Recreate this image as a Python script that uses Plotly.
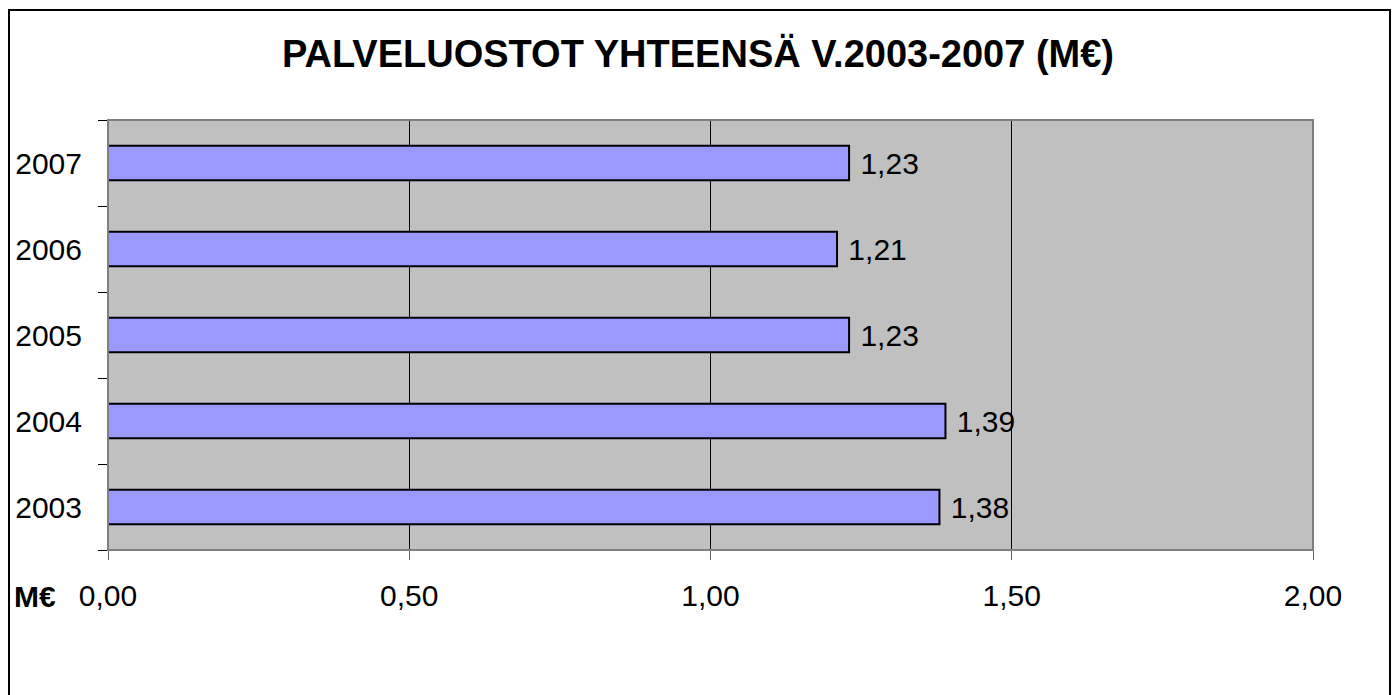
import plotly.graph_objects as go

FONT = "Liberation Sans, Arial, sans-serif"

years = ["2003", "2004", "2005", "2006", "2007"]
values = [1.38, 1.39, 1.23, 1.21, 1.23]
x_ticks = [0, 0.5, 1.0, 1.5, 2.0]

fig = go.Figure(go.Bar(
    x=values, y=years, orientation="h",
    width=0.4,
    marker=dict(color="#9999FF", line=dict(color="black", width=2)),
    texttemplate=" %{x:.2f}", textposition="outside",
    textfont=dict(size=30, color="black", family=FONT),
    cliponaxis=False,
))

fig.update_layout(
    width=1396, height=695,
    separators=", ",
    paper_bgcolor="white", plot_bgcolor="#C0C0C0",
    margin=dict(l=108, r=83, t=120, b=145),
    font=dict(family=FONT, color="black"),
    title=dict(text="<b>PALVELUOSTOT YHTEENSÄ V.2003-2007 (M€)</b>",
               font=dict(size=38, family=FONT, color="black"),
               x=0.5, xanchor="center", y=1 - 54 / 695, yanchor="middle"),
    showlegend=False,
)
fig.update_xaxes(range=[0, 2], tickvals=x_ticks, tickformat=".2f",
                 showgrid=True, gridcolor="black", gridwidth=1,
                 ticks="outside", ticklen=9, tickcolor="#606060",
                 tickfont=dict(size=30, family=FONT), ticklabelstandoff=10,
                 zeroline=False, showline=False)
fig.update_yaxes(type="category", categoryorder="array", categoryarray=years,
                 ticks="outside", ticklen=9, tickcolor="black", tickson="boundaries",
                 tickfont=dict(size=30, family=FONT), ticklabelstandoff=25,
                 showgrid=False, zeroline=False, showline=False)

# plot area frame
fig.add_shape(type="rect", xref="x domain", yref="y domain", x0=0, x1=1, y0=0, y1=1,
              line=dict(color="#808080", width=2), layer="above")
# outer chart border
fig.add_shape(type="rect", xref="paper", yref="paper",
              x0=(9 - 108) / 1205, x1=(1390 - 108) / 1205,
              y0=(550 - 720) / 430, y1=(550 - 10) / 430,
              line=dict(color="black", width=2))
fig.add_annotation(text="<b>M€</b>", xref="paper", yref="paper",
                   x=(12 - 108) / 1205, xanchor="left",
                   y=(550 - 596) / 430, yanchor="middle",
                   showarrow=False, font=dict(size=30, family=FONT, color="black"))

fig.write_html("out.html", config={"displayModeBar": False},
               post_script="document.body.style.margin = '0';")
